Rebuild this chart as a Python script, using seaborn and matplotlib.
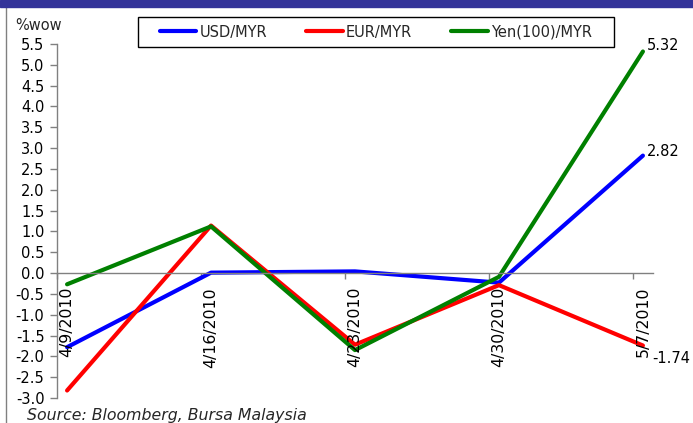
import numpy as np
import pandas as pd
import matplotlib
matplotlib.use("Agg")
import matplotlib.pyplot as plt
from matplotlib.patches import Rectangle
from matplotlib.lines import Line2D
import seaborn as sns

# Weekly % change of the ringgit crosses
dates = ["4/9/2010", "4/16/2010", "4/23/2010", "4/30/2010", "5/7/2010"]
usd_myr = [-1.78, 0.01, 0.04, -0.23, 2.82]
eur_myr = [-2.82, 1.14, -1.72, -0.29, -1.74]
yen_myr = [-0.27, 1.12, -1.85, -0.09, 5.32]

series_names = ["USD/MYR", "EUR/MYR", "Yen(100)/MYR"]
series_values = [usd_myr, eur_myr, yen_myr]
series_colors = ["#0000FF", "#FF0000", "#008000"]

y_ticks = np.arange(-3.0, 5.51, 0.5)

frames = []
for name, vals in zip(series_names, series_values):
    frames.append(pd.DataFrame({"pos": np.arange(len(dates)), "date": dates,
                                "value": vals, "series": name}))
df = pd.concat(frames, ignore_index=True)

sns.set_style("white")
plt.rcParams["font.family"] = ["DejaVu Sans"]
plt.rcParams["axes.unicode_minus"] = False

W, H = 693, 423
fig = plt.figure(figsize=(W / 100, H / 100), dpi=100)
ax = fig.add_axes([57 / W, 1 - 398 / H, (653 - 57) / W, (398 - 44) / H])

sns.lineplot(data=df, x="pos", y="value", hue="series", hue_order=series_names,
             palette=series_colors, linewidth=3.0, ax=ax, legend=False,
             estimator=None, sort=False)

ax.set_xlim(-0.07, len(dates) - 1 + 0.07)
ax.set_ylim(-3.0, 5.5)
ax.set_yticks(y_ticks)
ax.set_yticklabels([f"{v:.1f}" for v in y_ticks], fontsize=10.5, color="black")
ax.set_xticks(np.arange(len(dates)) - 0.07)
ax.set_xticklabels([])
ax.set_xlabel("")
ax.set_ylabel("")

for side in ["top", "right"]:
    ax.spines[side].set_visible(False)
ax.spines["bottom"].set_position(("data", 0))
for side in ["left", "bottom"]:
    ax.spines[side].set_color("#808080")
    ax.spines[side].set_linewidth(1.0)
ax.tick_params(axis="y", direction="out", length=5, width=1, color="#808080", pad=4, left=True)
ax.tick_params(axis="x", direction="out", length=4, width=1, color="#808080", bottom=True)

# category labels hang below the zero line, rotated
for i, d in enumerate(dates):
    ax.annotate(d, xy=(i, 0), xytext=(0, -14), textcoords="offset pixels",
                rotation=90, ha="center", va="top", fontsize=11.3, color="black")

# value labels on the final week
last = len(dates) - 1
label_offsets = [(4, 4), (9, -13), (4, 6)]
for vals, (dx, dy) in zip(series_values, label_offsets):
    ax.annotate(f"{vals[last]:.2f}", xy=(last, vals[last]), xytext=(dx, dy),
                textcoords="offset pixels", ha="left", va="center",
                fontsize=10.5, color="black")

# legend box with entries laid out inside it
fig.patches.append(Rectangle((138 / W, 1 - 47 / H), (614 - 138) / W, 30 / H,
                             transform=fig.transFigure, facecolor="white",
                             edgecolor="black", lw=1.0, zorder=4))
handles = [Line2D([0], [0], color=c, lw=3) for c in series_colors]
leg = fig.legend(handles, series_names, loc="center left",
                 bbox_to_anchor=(160 / W, 1 - 32 / H), ncol=3, fontsize=10.5,
                 frameon=False, handlelength=2.5, handletextpad=0.2,
                 columnspacing=2.7, borderpad=0, borderaxespad=0)
leg.set_zorder(6)

fig.text(15 / W, 1 - 25 / H, "%wow", fontsize=10.5, va="center", ha="left")
fig.text(27 / W, 1 - 419.5 / H, "Source: Bloomberg, Bursa Malaysia", fontsize=11.3,
         style="italic", va="baseline", ha="left")

# header band and left rule
fig.patches.append(Rectangle((0, 1 - 7 / H), 1, 7 / H, transform=fig.transFigure,
                             color="#333399", zorder=5))
fig.lines.append(Line2D([6 / W, 6 / W], [0, 1 - 7 / H], transform=fig.transFigure,
                        color="#808080", lw=1.0))

fig.savefig("out.png", dpi=100)
